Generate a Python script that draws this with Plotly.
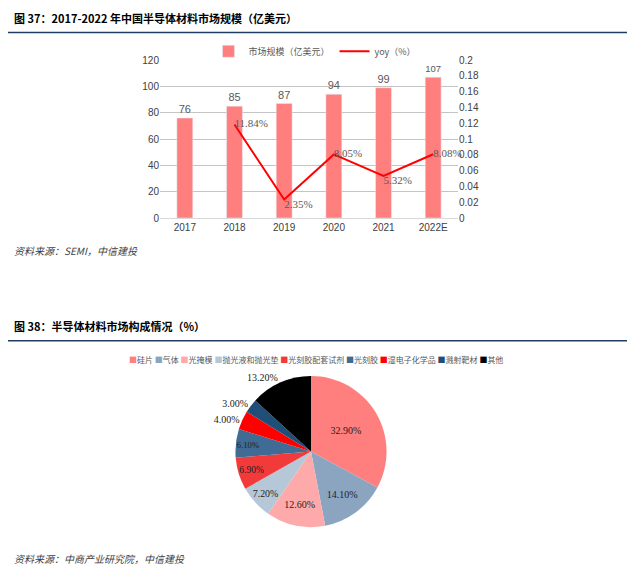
#Recreates the two report charts: market size bars + yoy line, and material share pie
import plotly.graph_objects as go

W, H = 640, 578
OFF = 8  # page body margin in the browser

years = ["2017", "2018", "2019", "2020", "2021", "2022E"]
market_size = [76, 85, 87, 94, 99, 107]
yoy_years = ["2018", "2019", "2020", "2021", "2022E"]
yoy = [0.1184, 0.0235, 0.0805, 0.0532, 0.0808]
yoy_labels = ["11.84%", "2.35%", "8.05%", "5.32%", "8.08%"]

materials = ["硅片", "气体", "光掩模", "抛光液和抛光垫", "光刻胶配套试剂",
             "光刻胶", "湿电子化学品", "溅射靶材", "其他"]
shares = [32.9, 14.1, 12.6, 7.2, 6.9, 6.1, 4.0, 3.0, 13.2]
share_colors = ["#ff7f7f", "#8ba5c1", "#ffaaaa", "#b6c8d8", "#f23a3a",
                "#3f6b94", "#ff0000", "#1f4e79", "#000000"]

CJK = "Noto Sans CJK SC"
SANS = "Liberation Sans, Arial"
SERIF = "Liberation Serif"
GREY = "#595959"


def px_x(p):
    return (p - OFF) / W


def px_y(p):
    return 1 - (p - OFF) / H


fig = go.Figure()

fig.add_trace(go.Bar(
    x=years, y=market_size, name="市场规模（亿美元）",
    marker_color="#ff7f7f",
    text=market_size, textposition="outside",
    textfont=dict(family=SANS, size=11, color=GREY),
    cliponaxis=False, legend="legend",
))

fig.add_trace(go.Scatter(
    x=yoy_years, y=yoy, name="yoy（%）", yaxis="y2",
    mode="lines+text", line=dict(color="#ff0000", width=2),
    text=yoy_labels,
    textposition=["middle right", "bottom right", "middle right", "bottom right", "middle right"],
    textfont=dict(family=SERIF, size=11, color=GREY),
    cliponaxis=False, legend="legend",
))

fig.add_trace(go.Pie(
    labels=materials, values=shares, sort=False, direction="clockwise", rotation=0,
    marker=dict(colors=share_colors),
    text=[f"{v:.2f}%" for v in shares], textinfo="text",
    textposition=["inside"] * 6 + ["outside", "outside", "outside"],
    insidetextorientation="horizontal",
    textfont=dict(family=SERIF, size=10, color="#222222"),
    domain=dict(x=[px_x(234), px_x(388)], y=[px_y(532), px_y(378)]),
    showlegend=False,
))

fig.update_layout(
    width=W, height=H,
    margin=dict(l=0, r=0, t=0, b=0),
    plot_bgcolor="white", paper_bgcolor="white",
    bargap=0.68,
    xaxis=dict(domain=[px_x(160), px_x(458)], showline=True, linecolor="#d9d9d9",
               ticks="", tickfont=dict(family=SANS, size=10, color="#404040"),
               anchor="y"),
    yaxis=dict(domain=[px_y(217), px_y(56)], range=[0, 120], dtick=20,
               gridcolor="#c4c4c4", zeroline=False, ticks="",
               tickfont=dict(family=SANS, size=10, color="#404040")),
    yaxis2=dict(overlaying="y", side="right", range=[0, 0.2], dtick=0.02,
                showgrid=False, zeroline=False, ticks="",
                tickfont=dict(family=SANS, size=10, color="#404040")),
    legend=dict(orientation="h", x=px_x(315), xanchor="center", y=px_y(47), yanchor="middle",
                font=dict(family=CJK, size=9, color=GREY), itemwidth=30),
    showlegend=True,
)

# pie legend as one compact line of coloured squares
pie_legend = " ".join(f"<span style='color:{c}'>■</span>{m}"
                      for m, c in zip(materials, share_colors))
fig.add_annotation(
    text=pie_legend, x=px_x(316), y=px_y(361), xref="paper", yref="paper",
    xanchor="center", yanchor="middle", showarrow=False,
    font=dict(family=CJK, size=8, color=GREY),
)

# titles, rules and sources
texts = [
    ("图 37：2017-2022 年中国半导体材料市场规模（亿美元）", 12, 13, True),
    ("图 38：半导体材料市场构成情况（%）", 12, 327, True),
    ("资料来源：SEMI，中信建投", 12, 250, False),
    ("资料来源：中商产业研究院，中信建投", 12, 564, False),
]
for t, x, y, bold in texts:
    fig.add_annotation(
        text=f"<b>{t}</b>" if bold else f"<i>{t}</i>",
        x=px_x(x), y=px_y(y), xref="paper", yref="paper",
        xanchor="left", yanchor="middle", showarrow=False,
        font=dict(family=CJK, size=11 if bold else 10,
                  color="#000000" if bold else "#404040"),
    )

for y in (28, 342):
    fig.add_shape(type="line", xref="paper", yref="paper",
                  x0=px_x(5), x1=px_x(627), y0=px_y(y), y1=px_y(y),
                  line=dict(color="#1f3d63", width=1.5))

fig.write_html("out.html")
